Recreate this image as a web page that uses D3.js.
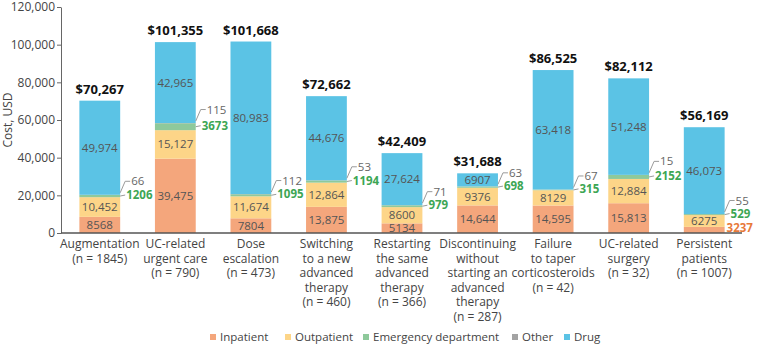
<!DOCTYPE html>
<html>
<head>
<meta charset="utf-8">
<script src="https://cdn.jsdelivr.net/npm/d3@7"></script>
<style>
  body { margin: 0; background: #fff; }
  svg { font-family: "Open Sans", sans-serif; }
</style>
</head>
<body>
<svg id="chart" width="758" height="345"></svg>
<script>
// chart values
const categories = [
  "Augmentation\n(n = 1845)",
  "UC-related\nurgent care\n(n = 790)",
  "Dose\nescalation\n(n = 473)",
  "Switching\nto a new\nadvanced\ntherapy\n(n = 460)",
  "Restarting\nthe same\nadvanced\ntherapy\n(n = 366)",
  "Discontinuing\nwithout\nstarting an\nadvanced\ntherapy\n(n = 287)",
  "Failure\nto taper\ncorticosteroids\n(n = 42)",
  "UC-related\nsurgery\n(n = 32)",
  "Persistent\npatients\n(n = 1007)",
];
const inpatient = [8568, 39475, 7804, 13875, 5134, 14644, 14595, 15813, 3237];
const outpatient = [10452, 15127, 11674, 12864, 8600, 9376, 8129, 12884, 6275];
const emergency = [1206, 3673, 1095, 1194, 979, 698, 315, 2152, 529];
const other = [66, 115, 112, 53, 71, 63, 67, 15, 55];
const drug = [49974, 42965, 80983, 44676, 27624, 6907, 63418, 51248, 46073];
const totals = [70267, 101355, 101668, 72662, 42409, 31688, 86525, 82112, 56169];
const seriesKeys = ["Inpatient", "Outpatient", "Emergency department", "Other", "Drug"];
const yTicks = [0, 20000, 40000, 60000, 80000, 100000, 120000];

const colors = {
  Inpatient: "#f4a67c",
  Outpatient: "#fdd588",
  "Emergency department": "#8ec99b",
  Other: "#a3a3a3",
  Drug: "#5bc3e5",
};
const labelGrey = "#555",
  green = "#3da654",
  orange = "#e8793a",
  leaderGrey = "#9a9a9a";

let svg = d3.select("#chart"),
  width = 758,
  height = 345,
  margin = { left: 61, right: 16, top: 7, bottom: 112 };

const rows = categories.map((c, i) => ({
  i,
  Inpatient: inpatient[i],
  Outpatient: outpatient[i],
  "Emergency department": emergency[i],
  Other: other[i],
  Drug: drug[i],
}));

const series = d3.stack().keys(seriesKeys)(rows);

const x = d3
  .scaleBand()
  .domain(d3.range(categories.length))
  .range([margin.left + 1, width - margin.right])
  .paddingInner(0.46)
  .paddingOuter(0.23);

const y = d3
  .scaleLinear()
  .domain([0, 120000])
  .range([height - margin.bottom, margin.top]);

// y axis
const yAxis = d3
  .axisLeft(y)
  .tickValues(yTicks)
  .tickSize(4)
  .tickSizeOuter(0)
  .tickPadding(2)
  .tickFormat(d3.format(","));

svg
  .append("g")
  .attr("transform", `translate(${margin.left},0)`)
  .call(yAxis)
  .call((g) => {
    g.select(".domain").attr("stroke", "#666");
    g.selectAll(".tick line").attr("stroke", "#666");
    g.selectAll(".tick text")
      .attr("fill", "#444")
      .style("font-size", "12px")
      .style("font-family", "'Open Sans', sans-serif");
  });

svg
  .append("text")
  .attr("transform", `translate(12,${(margin.top + height - margin.bottom) / 2}) rotate(-90)`)
  .attr("text-anchor", "middle")
  .attr("fill", "#444")
  .style("font-size", "12px")
  .text("Cost, USD");

// bars
svg
  .append("g")
  .selectAll("g")
  .data(series)
  .join("g")
  .attr("fill", (s) => colors[s.key])
  .selectAll("rect")
  .data((s) => s)
  .join("rect")
  .attr("x", (d) => x(d.data.i))
  .attr("width", x.bandwidth())
  .attr("y", (d) => y(d[1]))
  .attr("height", (d) => y(d[0]) - y(d[1]));

// x baseline
svg
  .append("line")
  .attr("x1", margin.left)
  .attr("x2", width - margin.right)
  .attr("y1", y(0))
  .attr("y2", y(0))
  .attr("stroke", "#555")
  .attr("stroke-width", 1.5);

// labels inside big segments
const labels = svg.append("g").style("font-size", "11.5px");
const fmt = (v) => (v >= 10000 ? d3.format(",")(v) : String(v));

["Inpatient", "Outpatient", "Drug"].forEach((key) => {
  const s = series.find((d) => d.key === key);
  s.forEach((d) => {
    const h = y(d[0]) - y(d[1]);
    const v = d.data[key];
    if (h >= 8) {
      labels
        .append("text")
        .attr("x", x(d.data.i) + x.bandwidth() / 2)
        .attr("y", (y(d[0]) + y(d[1])) / 2)
        .attr("dy", "0.35em")
        .attr("text-anchor", "middle")
        .attr("fill", labelGrey)
        .text(fmt(v));
    } else {
      // too small to fit inside, put it to the right
      labels
        .append("text")
        .attr("x", x(d.data.i) + x.bandwidth() + 2)
        .attr("y", (y(d[0]) + y(d[1])) / 2 - 2)
        .attr("dy", "0.35em")
        .attr("fill", orange)
        .style("font-weight", "bold")
        .text(fmt(v));
    }
  });
});

// emergency + other, outside with leader lines
const emSeries = series.find((d) => d.key === "Emergency department");
const otSeries = series.find((d) => d.key === "Other");
emSeries.forEach((d, i) => {
  const barR = x(i) + x.bandwidth();
  const emMid = (y(d[0]) + y(d[1])) / 2;
  const otTop = y(otSeries[i][1]);
  const greenY = emMid - 1;
  const greyY = otTop - 13.5;

  labels
    .append("path")
    .attr("d", `M${barR},${emMid} L${barR + 5},${greenY}`)
    .attr("fill", "none")
    .attr("stroke", leaderGrey);
  labels
    .append("text")
    .attr("x", barR + 6)
    .attr("y", greenY)
    .attr("dy", "0.35em")
    .attr("fill", green)
    .style("font-weight", "bold")
    .text(emergency[i]);

  labels
    .append("path")
    .attr("d", `M${barR},${otTop - 2} L${barR + 5},${greyY} L${barR + 10},${greyY}`)
    .attr("fill", "none")
    .attr("stroke", leaderGrey);
  labels
    .append("text")
    .attr("x", barR + 11)
    .attr("y", greyY)
    .attr("dy", "0.35em")
    .attr("fill", "#666")
    .text(other[i]);
});

// totals
const drugSeries = series.find((d) => d.key === "Drug");
svg
  .append("g")
  .selectAll("text")
  .data(totals)
  .join("text")
  .attr("x", (d, i) => x(i) + x.bandwidth() / 2)
  .attr("y", (d, i) => y(drugSeries[i][1]) - 7)
  .attr("text-anchor", "middle")
  .attr("fill", "#111")
  .style("font-size", "13px")
  .style("font-weight", "bold")
  .text((d) => "$" + d3.format(",")(d));

// category labels
svg
  .append("g")
  .selectAll("text")
  .data(categories)
  .join("text")
  .attr("text-anchor", "middle")
  .attr("fill", "#444")
  .style("font-size", "12px")
  .attr("transform", (d, i) => `translate(${x(i) + x.bandwidth() / 2},${y(0) + 15})`)
  .each(function (d) {
    d3.select(this)
      .selectAll("tspan")
      .data(d.split("\n"))
      .join("tspan")
      .attr("x", 0)
      .attr("y", (t, j) => j * 14.5)
      .text((t) => t);
  });

// legend
const legendX = [210, 285, 363, 512, 564];
const legend = svg
  .append("g")
  .selectAll("g")
  .data(seriesKeys)
  .join("g")
  .attr("transform", (d, i) => `translate(${legendX[i]},337)`);
legend
  .append("rect")
  .attr("x", 0)
  .attr("y", -3)
  .attr("width", 6)
  .attr("height", 6)
  .attr("fill", (d) => colors[d]);
legend
  .append("text")
  .attr("x", 10)
  .attr("dy", "0.35em")
  .attr("fill", "#444")
  .style("font-size", "11.5px")
  .text((d) => d);
</script>
</body>
</html>
